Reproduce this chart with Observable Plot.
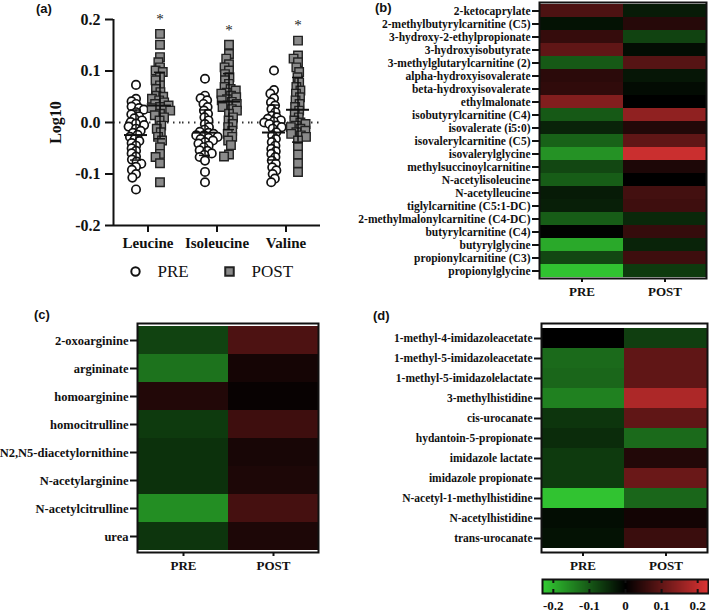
<!DOCTYPE html>
<html><head><meta charset="utf-8">
<script src="https://cdn.jsdelivr.net/npm/d3@7"></script>
<script src="https://cdn.jsdelivr.net/npm/@observablehq/plot@0.6"></script>
<style>
body{margin:0;background:#fff;}
#root{position:relative;width:709px;height:612px;overflow:hidden;background:#fff;}
#root > svg, #root > div.p{position:absolute;}
.lab{position:absolute;font-family:"Liberation Sans",Arial,sans-serif;font-weight:bold;font-size:13px;line-height:1;color:#111;}
</style></head><body><div id="root"></div>
<script>
// ---------- Panel (a) data ----------
const aminoAcids = ["Leucine", "Isoleucine", "Valine"];
const groups = ["PRE", "POST"];
const significance = ["*", "*", "*"];
const yTicks = [-0.2, -0.1, 0, 0.1, 0.2];
const leucinePre = [0.073, 0.046, 0.041, 0.036, 0.031, 0.028, 0.025, 0.020, 0.016, 0.012, 0.008, 0.004, 0.001, -0.002, -0.005, -0.008, -0.012, -0.016, -0.020, -0.024, -0.028, -0.032, -0.036, -0.040, -0.045, -0.050, -0.055, -0.060, -0.066, -0.072, -0.076, -0.080, -0.086, -0.092, -0.100, -0.107, -0.130];
const leucinePost = [0.172, 0.151, 0.127, 0.117, 0.107, 0.101, 0.098, 0.088, 0.082, 0.072, 0.065, 0.059, 0.052, 0.050, 0.046, 0.043, 0.039, 0.036, 0.033, 0.030, 0.028, 0.024, 0.023, 0.017, 0.014, 0.010, 0.004, -0.006, -0.012, -0.019, -0.028, -0.035, -0.048, -0.061, -0.067, -0.079, -0.116];
const isoleucinePre = [0.085, 0.052, 0.047, 0.043, 0.036, 0.030, 0.023, 0.017, 0.010, 0.004, -0.003, -0.009, -0.014, -0.018, -0.020, -0.022, -0.025, -0.025, -0.028, -0.030, -0.032, -0.035, -0.038, -0.041, -0.045, -0.048, -0.054, -0.055, -0.060, -0.063, -0.067, -0.074, -0.096, -0.116];
const isoleucinePost = [0.151, 0.133, 0.124, 0.113, 0.107, 0.101, 0.094, 0.088, 0.082, 0.075, 0.069, 0.065, 0.062, 0.058, 0.056, 0.052, 0.049, 0.045, 0.043, 0.040, 0.036, 0.033, 0.030, 0.026, 0.023, 0.017, 0.010, 0.004, -0.003, -0.009, -0.016, -0.022, -0.028, -0.035, -0.044, -0.062, -0.066];
const valinePre = [0.101, 0.063, 0.056, 0.047, 0.039, 0.033, 0.026, 0.020, 0.013, 0.010, 0.007, 0.004, 0.002, 0.000, -0.003, -0.006, -0.009, -0.012, -0.019, -0.025, -0.032, -0.038, -0.045, -0.051, -0.056, -0.061, -0.067, -0.074, -0.080, -0.087, -0.093, -0.100, -0.109, -0.116];
const valinePost = [0.159, 0.130, 0.124, 0.117, 0.107, 0.098, 0.088, 0.078, 0.069, 0.062, 0.056, 0.049, 0.043, 0.036, 0.030, 0.023, 0.017, 0.010, 0.004, 0.000, -0.003, -0.006, -0.009, -0.012, -0.016, -0.019, -0.022, -0.025, -0.028, -0.035, -0.048, -0.062, -0.079, -0.096];

// ---------- Panel (b) data ----------
const bNames = ["2-ketocaprylate", "2-methylbutyrylcarnitine (C5)", "3-hydroxy-2-ethylpropionate", "3-hydroxyisobutyrate", "3-methylglutarylcarnitine (2)", "alpha-hydroxyisovalerate", "beta-hydroxyisovalerate", "ethylmalonate", "isobutyrylcarnitine (C4)", "isovalerate (i5:0)", "isovalerylcarnitine (C5)", "isovalerylglycine", "methylsuccinoylcarnitine", "N-acetylisoleucine", "N-acetylleucine", "tiglylcarnitine (C5:1-DC)", "2-methylmalonylcarnitine (C4-DC)", "butyrylcarnitine (C4)", "butyrylglycine", "propionylcarnitine (C3)", "propionylglycine"];
const bPre  = [0.080, -0.020, 0.055, 0.100, -0.100, 0.045, 0.050, 0.135, -0.100, -0.040, -0.110, -0.165, -0.080, -0.105, -0.030, -0.035, -0.105, -0.003, -0.190, -0.080, -0.220];
const bPost = [-0.030, 0.040, -0.075, -0.015, 0.090, -0.025, -0.012, 0.000, 0.150, 0.035, 0.100, 0.210, 0.030, 0.000, 0.070, 0.065, -0.045, 0.055, -0.040, 0.065, -0.065];

// ---------- Panel (c) data ----------
const cNames = ["2-oxoarginine", "argininate", "homoarginine", "homocitrulline", "N2,N5-diacetylornithine", "N-acetylarginine", "N-acetylcitrulline", "urea"];
const cPre  = [-0.075, -0.130, 0.035, -0.065, -0.055, -0.055, -0.160, -0.060];
const cPost = [0.080, 0.022, 0.008, 0.065, 0.025, 0.030, 0.072, 0.030];

// ---------- Panel (d) data ----------
const dNames = ["1-methyl-4-imidazoleacetate", "1-methyl-5-imidazoleacetate", "1-methyl-5-imidazolelactate", "3-methylhistidine", "cis-urocanate", "hydantoin-5-propionate", "imidazole lactate", "imidazole propionate", "N-acetyl-1-methylhistidine", "N-acetylhistidine", "trans-urocanate"];
const dPre  = [0.000, -0.120, -0.115, -0.145, -0.060, -0.050, -0.065, -0.065, -0.220, -0.015, -0.020];
const dPost = [-0.070, 0.100, 0.100, 0.180, 0.100, -0.120, 0.035, 0.110, -0.115, 0.020, 0.060];

const colorTicks = [-0.2, -0.1, 0, 0.1, 0.2];

// ---------- shared styles ----------
const serif = '"Liberation Serif", "Times New Roman", serif';
const colorOpts = {type: "linear", domain: [-0.23, 0, 0.23], range: ["#33cc33", "#000000", "#dd3333"], interpolate: "rgb", clamp: true};
const root = document.getElementById("root");
function place(node, left, top) { node.style.position = "absolute"; node.style.left = left + "px"; node.style.top = top + "px"; root.appendChild(node); }

// ---------- Panel (a) ----------
const series = {Leucine: [leucinePre, leucinePost], Isoleucine: [isoleucinePre, isoleucinePost], Valine: [valinePre, valinePost]};
const points = [];
for (const cat of aminoAcids) groups.forEach((g, gi) => series[cat][gi].forEach(v => points.push({cat, group: g, value: v})));
const stats = d3.flatRollup(points, v => {
  const m = d3.mean(v, d => d.value), s = d3.deviation(v, d => d.value);
  return {mean: m, lo: m - s, hi: m + s, max: d3.max(v, d => d.value)};
}, d => d.cat, d => d.group).map(([cat, group, s]) => ({cat, group, ...s, star: significance[aminoAcids.indexOf(cat)]}));
const offset = {PRE: -12, POST: 12};
const symStyle = {
  PRE: {symbol: "circle", r: 4.2, fill: "white", stroke: "#111", strokeWidth: 1.7},
  POST: {symbol: "square", r: 4.8, fill: "#8a8a8a", stroke: "#222", strokeWidth: 1.4}
};
const dodgePad = {PRE: -3.3, POST: -4.2};

const plotA = Plot.plot({
  width: 340, height: 262,
  marginLeft: 112, marginRight: 20, marginTop: 19, marginBottom: 37,
  style: {fontFamily: serif, background: "transparent", overflow: "visible", color: "#111"},
  fx: {domain: aminoAcids, padding: 0, label: null, axis: null},
  x: {domain: [0, 1], axis: null},
  y: {domain: [-0.2, 0.2]},
  marks: [
    Plot.ruleY([0], {stroke: "#333", strokeWidth: 2, strokeDasharray: "1.5,4.5"}),
    ...groups.map(g => Plot.dot(points.filter(d => d.group === g), Plot.dodgeX({anchor: "middle", padding: dodgePad[g]}, {fx: "cat", y: "value", dx: offset[g], ...symStyle[g]}))),
    ...groups.flatMap(g => {
      const st = stats.filter(d => d.group === g);
      return [
        Plot.ruleX(st, {fx: "cat", x: null, y1: "lo", y2: "hi", dx: offset[g], strokeWidth: 1.5}),
        Plot.tickY(st, {fx: "cat", y: "lo", dx: offset[g], insetLeft: 29, insetRight: 29, strokeWidth: 1.5}),
        Plot.tickY(st, {fx: "cat", y: "hi", dx: offset[g], insetLeft: 29, insetRight: 29, strokeWidth: 1.5}),
        Plot.tickY(st, {fx: "cat", y: "mean", dx: offset[g], insetLeft: 23, insetRight: 23, strokeWidth: 2})
      ];
    }),
    Plot.text(stats.filter(d => d.group === "POST"), {fx: "cat", y: "max", text: "star", dx: offset.POST, dy: -15, fontSize: 15, fill: "#222"}),
    Plot.ruleY([-0.2], {strokeWidth: 2}),
    Plot.ruleX([0], {fx: [aminoAcids[0]], y1: -0.2, y2: 0.2, strokeWidth: 2}),
    Plot.axisY({ticks: yTicks, tickFormat: d => d.toFixed(1), tickSize: 8, tickPadding: 5, strokeWidth: 2, fontSize: 16, fontWeight: "bold", label: "Log10", labelAnchor: "center", labelArrow: "none", labelOffset: 64}),
    Plot.axisFx({anchor: "bottom", tickSize: 7, tickPadding: 5, strokeWidth: 2, fontSize: 15, fontWeight: "bold", label: null})
  ]
});
place(plotA, 0, 0);

const legendA = Plot.plot({
  width: 340, height: 30, margin: 0,
  style: {fontFamily: serif, background: "transparent", overflow: "visible", color: "#111"},
  x: {type: "point", domain: groups, range: [135, 229], padding: 0, axis: null},
  marks: [
    ...groups.map(g => Plot.dot([g], {x: d => d, frameAnchor: "middle", ...symStyle[g], strokeWidth: 2})),
    Plot.text(groups, {x: d => d, text: d => d, frameAnchor: "middle", dx: 22, textAnchor: "start", fontSize: 17})
  ]
});
place(legendA, 0, 256);

// ---------- heatmaps ----------
function heatmap(names, pre, post, o) {
  const cells = names.flatMap((n, i) => [{name: n, group: "PRE", value: pre[i]}, {name: n, group: "POST", value: post[i]}]);
  return Plot.plot({
    width: o.width, height: o.height,
    marginLeft: o.marginLeft, marginRight: o.marginRight, marginTop: o.marginTop, marginBottom: o.marginBottom,
    style: {fontFamily: serif, background: "transparent", overflow: "visible", color: "#111"},
    x: {domain: groups, padding: 0},
    y: {domain: names, padding: 0},
    color: colorOpts,
    marks: [
      Plot.cell(cells, {x: "group", y: "name", fill: "value"}),
      Plot.frame({strokeWidth: 2}),
      Plot.axisY({tickSize: 7, tickPadding: 2, strokeWidth: 2, fontSize: o.fontSize, fontWeight: "bold", label: null}),
      Plot.axisX({tickSize: 4, tickPadding: 4, strokeWidth: 2, fontSize: 13, fontWeight: "bold", label: null})
    ]
  });
}
place(heatmap(bNames, bPre, bPost, {width: 355, height: 305, marginLeft: 185, marginRight: 3, marginTop: 2, marginBottom: 27, fontSize: 11.5}), 354, 0);
place(heatmap(cNames, cPre, cPost, {width: 330, height: 280, marginLeft: 137, marginRight: 12, marginTop: 23, marginBottom: 28, fontSize: 12.5}), 0, 300);
place(heatmap(dNames, dPre, dPost, {width: 355, height: 280, marginLeft: 187, marginRight: 2, marginTop: 23, marginBottom: 28, fontSize: 11.5}), 354, 300);

// ---------- colour bar ----------
const colorbar = Plot.plot({
  width: 179, height: 42, marginLeft: 12, marginRight: 1, marginTop: 9, marginBottom: 19,
  style: {fontFamily: serif, background: "transparent", overflow: "visible", color: "#111"},
  x: {domain: [-0.23, 0.23]},
  y: {domain: [0, 1], axis: null},
  color: colorOpts,
  marks: [
    Plot.raster({x1: -0.23, x2: 0.23, y1: 0, y2: 1, fill: (x, y) => x, pixelSize: 1}),
    Plot.tickX(colorTicks, {x: d => d, insetBottom: 10, strokeWidth: 2}),
    Plot.tickX(colorTicks, {x: d => d, insetTop: 10, strokeWidth: 2}),
    Plot.frame({strokeWidth: 2}),
    Plot.axisX({ticks: colorTicks, tickSize: 0, tickPadding: 7, tickFormat: d => d === 0 ? "0" : d.toFixed(1), fontSize: 13, fontWeight: "bold", label: null})
  ]
});
place(colorbar, 530, 570);

// ---------- panel letters ----------
[["(a)", 36, 2], ["(b)", 375, 1], ["(c)", 34, 308], ["(d)", 373, 309]].forEach(([t, x, y]) => {
  const el = document.createElement("div"); el.className = "lab"; el.textContent = t;
  el.style.left = x + "px"; el.style.top = y + "px"; root.appendChild(el);
});
</script></body></html>
